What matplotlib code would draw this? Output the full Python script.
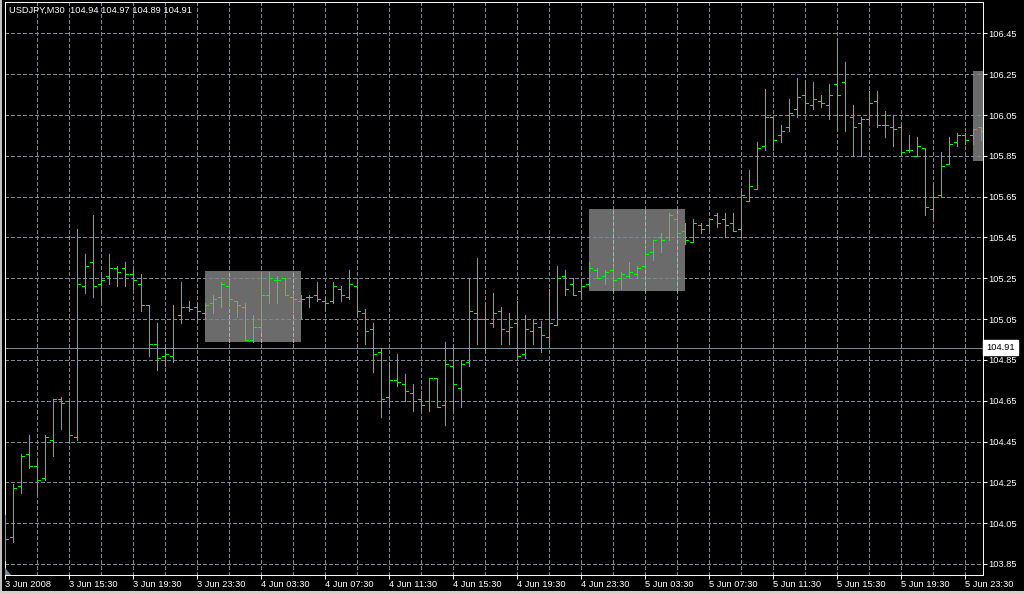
import numpy as np
import matplotlib
matplotlib.use('Agg')
import matplotlib.pyplot as plt
from matplotlib.patches import Rectangle
from matplotlib.transforms import blended_transform_factory

# USDJPY M30 bars, first bar 3 Jun 2008 11:30, one bar per 30 min
opens = [104.02, 103.98, 104.23, 104.39, 104.33, 104.27, 104.46, 104.66, 104.65, 104.47,
         105.21, 105.33, 105.22, 105.26, 105.30, 105.30, 105.27, 105.22, 105.12, 104.93,
         104.87, 104.87, 105.07, 105.11, 105.11, 105.08, 105.13, 105.16, 105.21, 105.14,
         105.11, 104.95, 105.01, 105.17, 105.24, 105.25, 105.16, 105.14, 105.16, 105.17,
         105.14, 105.14, 105.20, 105.16, 105.21, 105.08, 105.00, 104.89, 104.67, 104.75,
         104.73, 104.69, 104.66, 104.65, 104.76, 104.63, 104.82, 104.71, 104.84, 105.08,
         105.05, 105.03, 105.09, 104.99, 105.03, 104.88, 104.99, 105.01, 104.96, 105.02,
         105.26, 105.22, 105.19, 105.22, 105.29, 105.26, 105.29, 105.25, 105.26, 105.27,
         105.31, 105.38, 105.45, 105.45, 105.54, 105.48, 105.43, 105.51, 105.51, 105.56,
         105.54, 105.52, 105.49, 105.63, 105.69, 105.90, 106.04, 105.95, 105.99, 106.08,
         106.15, 106.10, 106.12, 106.10, 106.20, 106.21, 106.04, 106.01, 106.03, 106.12,
         106.00, 105.99, 105.99, 105.88, 105.85, 105.89, 105.59, 105.66, 105.81, 105.92,
         105.95, 105.95, 105.99]
highs = [104.09, 104.24, 104.39, 104.48, 104.37, 104.48, 104.66, 104.67, 104.65, 105.49,
         105.37, 105.56, 105.28, 105.37, 105.31, 105.33, 105.31, 105.27, 105.12, 105.03,
         104.93, 105.12, 105.23, 105.14, 105.13, 105.13, 105.17, 105.23, 105.24, 105.14,
         105.13, 105.07, 105.28, 105.28, 105.26, 105.25, 105.18, 105.17, 105.17, 105.23,
         105.16, 105.23, 105.21, 105.29, 105.25, 105.10, 105.03, 104.91, 104.84, 104.88,
         104.78, 104.73, 104.70, 104.76, 104.76, 104.94, 104.93, 104.85, 105.25, 105.35,
         105.13, 105.18, 105.11, 105.08, 105.14, 105.07, 105.05, 105.04, 105.20, 105.31,
         105.29, 105.25, 105.25, 105.33, 105.30, 105.29, 105.31, 105.28, 105.33, 105.31,
         105.40, 105.44, 105.47, 105.57, 105.56, 105.52, 105.54, 105.52, 105.54, 105.57,
         105.57, 105.57, 105.68, 105.78, 105.92, 106.18, 106.04, 106.00, 106.13, 106.23,
         106.22, 106.21, 106.15, 106.20, 106.43, 106.31, 106.10, 106.04, 106.17, 106.17,
         106.07, 106.05, 106.00, 105.95, 105.94, 105.89, 105.71, 105.87, 105.94, 105.96,
         105.96, 105.98, 105.99]
lows = [103.87, 103.96, 104.20, 104.32, 104.20, 104.26, 104.38, 104.51, 104.45, 104.46,
        105.18, 105.16, 105.14, 105.22, 105.21, 105.21, 105.20, 105.09, 104.87, 104.80,
        104.82, 104.84, 105.03, 105.09, 105.04, 105.05, 105.08, 105.11, 105.12, 105.06,
        104.95, 104.94, 104.99, 105.13, 105.13, 105.17, 105.09, 105.05, 105.11, 105.14,
        105.09, 105.13, 105.14, 105.15, 105.07, 104.93, 104.79, 104.57, 104.62, 104.72,
        104.65, 104.60, 104.59, 104.60, 104.62, 104.53, 104.59, 104.62, 104.82, 104.93,
        104.89, 105.01, 104.93, 104.93, 104.86, 104.86, 104.93, 104.89, 104.92, 105.02,
        105.17, 105.17, 105.15, 105.21, 105.25, 105.22, 105.21, 105.20, 105.25, 105.25,
        105.31, 105.34, 105.38, 105.44, 105.46, 105.42, 105.43, 105.47, 105.48, 105.50,
        105.45, 105.48, 105.45, 105.63, 105.69, 105.88, 105.88, 105.92, 105.97, 106.04,
        106.06, 106.08, 106.09, 106.03, 105.97, 105.97, 105.85, 105.85, 106.00, 105.99,
        105.94, 105.90, 105.85, 105.87, 105.85, 105.56, 105.54, 105.65, 105.81, 105.90,
        105.91, 105.91, 105.93]
closes = [103.97, 104.22, 104.38, 104.33, 104.26, 104.47, 104.66, 104.64, 104.48, 105.22,
          105.31, 105.21, 105.24, 105.30, 105.28, 105.27, 105.24, 105.12, 104.93, 104.86,
          104.88, 105.05, 105.11, 105.10, 105.09, 105.12, 105.15, 105.22, 105.15, 105.12,
          104.95, 105.01, 105.17, 105.25, 105.24, 105.17, 105.15, 105.15, 105.16, 105.15,
          105.13, 105.21, 105.17, 105.22, 105.09, 104.99, 104.88, 104.66, 104.75, 104.74,
          104.70, 104.65, 104.63, 104.76, 104.62, 104.83, 104.73, 104.83, 105.09, 105.05,
          105.05, 105.08, 105.00, 105.01, 104.87, 105.00, 105.03, 104.97, 105.03, 105.25,
          105.20, 105.17, 105.21, 105.30, 105.25, 105.28, 105.24, 105.27, 105.28, 105.30,
          105.37, 105.44, 105.44, 105.56, 105.47, 105.44, 105.52, 105.49, 105.54, 105.52,
          105.51, 105.48, 105.66, 105.70, 105.89, 106.04, 105.93, 105.97, 106.06, 106.14,
          106.11, 106.13, 106.11, 106.15, 106.15, 106.05, 105.99, 106.03, 106.11, 106.00,
          106.00, 105.98, 105.87, 105.88, 105.90, 105.60, 105.65, 105.80, 105.91, 105.95,
          105.93, 105.98, 105.97]

# one label every 8 bars (4 hours)
time_labels = ['3 Jun 2008', '3 Jun 15:30', '3 Jun 19:30', '3 Jun 23:30',
               '4 Jun 03:30', '4 Jun 07:30', '4 Jun 11:30', '4 Jun 15:30',
               '4 Jun 19:30', '4 Jun 23:30', '5 Jun 03:30', '5 Jun 07:30',
               '5 Jun 11:30', '5 Jun 15:30', '5 Jun 19:30', '5 Jun 23:30']
price_levels = [103.85, 104.05, 104.25, 104.45, 104.65, 104.85, 105.05,
                105.25, 105.45, 105.65, 105.85, 106.05, 106.25, 106.45]

# rectangle objects on the chart: (first bar, last bar, top price, bottom price)
zone_start = [25, 73, 121]
zone_end = [37, 85, 122.4]
zone_top = [105.286, 105.590, 106.266]
zone_bottom = [104.938, 105.190, 105.826]

symbol = 'USDJPY,M30'
last_bar = [104.94, 104.97, 104.89, 104.91]
bid = 104.91

BG = 'black'
GRID = '#778899'
BAR = '#00ff00'
FONT = ['Liberation Sans', 'DejaVu Sans']
FS = 6.7

W, H = 1024, 594
fig = plt.figure(figsize=(W / 100, H / 100), dpi=100, facecolor=BG)
# plot box in pixels: x 4.5..982.5, y 2..575
ax = fig.add_axes([4.5 / W, (H - 575) / H, 978 / W, 573 / H], facecolor=BG)

n = len(opens)
x = np.arange(n)
ax.set_xlim(-0.0625, 122.1875)
ax.set_ylim(103.796, 106.604)

# grid
for p in price_levels:
    ax.axhline(p, color=GRID, lw=0.7, ls=(0, (4, 2.5)), zorder=2, antialiased=False)
grid_x = list(range(4, n, 4))
for g in grid_x:
    ax.axvline(g, color=GRID, lw=0.7, ls=(0, (4, 2.5)), zorder=2, antialiased=False)

# grey rectangles (vertical grid shows cyan through them)
for k0, k1, top, bot in zip(zone_start, zone_end, zone_top, zone_bottom):
    ax.add_patch(Rectangle((k0, bot), k1 - k0, top - bot, facecolor='#6b6b6b',
                           edgecolor='none', zorder=1))
    for g in grid_x:
        if k0 < g < k1:
            ax.vlines(g, bot, top, color='#33ddff', lw=0.7, ls=(0, (4, 2.5)),
                      zorder=2.5, antialiased=False)

# bid line
ax.axhline(bid, color=GRID, lw=0.7, zorder=2, antialiased=False)

# OHLC bars
tick = 0.33
ax.vlines(x, lows, highs, color=BAR, lw=0.6, zorder=3, antialiased=False)
ax.hlines(opens, x - tick, x, color=BAR, lw=0.6, zorder=3, antialiased=False)
ax.hlines(closes, x, x + tick, color=BAR, lw=0.6, zorder=3, antialiased=False)

# chart shift marker in the bottom left corner
y0 = ax.get_ylim()[0]
ax.fill([0, 0, 0.75], [y0, y0 + 0.035, y0], color=GRID, lw=0, zorder=4)

# axes look
for s in ax.spines.values():
    s.set_color('white')
    s.set_linewidth(0.7)
ax.yaxis.tick_right()
ax.set_yticks(price_levels)
ax.set_yticklabels(['%.2f' % p for p in price_levels])
ax.set_xticks(range(0, n, 8))
ax.set_xticklabels(time_labels, ha='left')
ax.tick_params(colors='white', labelcolor='white', labelsize=FS, length=2.9,
               width=0.7, pad=1.0)
for lab in ax.get_xticklabels() + ax.get_yticklabels():
    lab.set_family(FONT)

# bid price box on the price scale
trans = blended_transform_factory(ax.transAxes, ax.transData)
ax.text(1.0037, bid, '%.2f' % bid, transform=trans, ha='left', va='center',
        fontsize=FS, family=FONT, color='black', zorder=5, clip_on=False,
        bbox=dict(boxstyle='square,pad=0.3', facecolor='white', edgecolor='white'))

# header
fig.text(9 / W, 1 - 10.5 / H, symbol + '  ' + ' '.join('%.2f' % v for v in last_bar),
         color='white', fontsize=FS, family=FONT, ha='left', va='center')

# window frame
fig.patches.append(Rectangle((0, 0), 1.5 / W, 1, transform=fig.transFigure,
                             facecolor='#c0c0c0', edgecolor='none'))
fig.patches.append(Rectangle((0, 0), 1, 3 / H, transform=fig.transFigure,
                             facecolor='#d4d0c8', edgecolor='none'))

fig.savefig('out.png', dpi=100, facecolor=BG)
